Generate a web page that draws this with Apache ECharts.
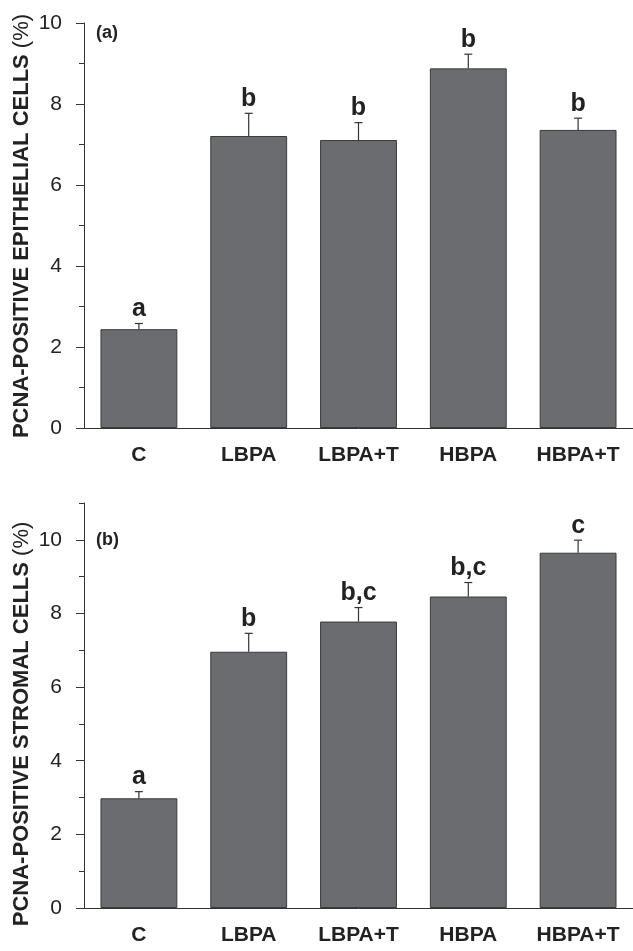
<!DOCTYPE html>
<html>
<head>
<meta charset="utf-8">
<script src="https://cdn.jsdelivr.net/npm/echarts@6/dist/echarts.min.js"></script>
<style>
html,body{margin:0;padding:0;background:#fff;}
#main{width:633px;height:951px;}
</style>
</head>
<body>
<div id="main"></div>
<script>
// groups on the x axis
const groups = ['C', 'LBPA', 'LBPA+T', 'HBPA', 'HBPA+T'];

// panel (a): epithelial cells, mean and SE
const epiMean = [2.44, 7.21, 7.11, 8.88, 7.36];
const epiErr = [0.14, 0.56, 0.43, 0.35, 0.29];
const epiSig = ['a', 'b', 'b', 'b', 'b'];

// panel (b): stromal cells, mean and SE
const strMean = [2.98, 6.96, 7.78, 8.46, 9.65];
const strErr = [0.18, 0.50, 0.38, 0.38, 0.34];
const strSig = ['a', 'b', 'b,c', 'b,c', 'c'];

// y ticks
const majorTicks = [0, 2, 4, 6, 8, 10];
const minorTicksA = [1, 3, 5, 7, 9];
const minorTicksB = [1, 3, 5, 7, 9, 11];

const FONT = '"Liberation Sans", Arial, Helvetica, sans-serif';
const INK = '#333';

let myChart = echarts.init(document.getElementById('main'));

// whisker (upper only) + significance letter
const errRender = (means, errs, sig) => (params, api) => {
  const i = params.dataIndex;
  const base = api.coord([i, means[i]]);
  const top = api.coord([i, means[i] + errs[i]]);
  const cap = 4;
  return {
    type: 'group',
    children: [
      {type: 'line', shape: {x1: base[0], y1: base[1], x2: top[0], y2: top[1]},
        style: {stroke: INK, lineWidth: 1.2}},
      {type: 'line', shape: {x1: top[0] - cap, y1: top[1], x2: top[0] + cap, y2: top[1]},
        style: {stroke: INK, lineWidth: 1.2}},
      {type: 'text', x: top[0], y: top[1] - 2,
        style: {text: sig[i], align: 'center', verticalAlign: 'bottom',
          fontSize: 25, fontWeight: 'bold', fontFamily: FONT, fill: '#222'}}
    ]
  };
};

const xAxesFor = (gridIndex) => [
  {
    type: 'category', gridIndex, position: 'bottom', data: groups,
    axisLine: {lineStyle: {color: INK, width: 1}},
    axisTick: {alignWithLabel: true, length: 7, lineStyle: {color: INK}},
    axisLabel: {fontSize: 21, fontWeight: 'bold', color: '#222', margin: 17, fontFamily: FONT}
  },
  {
    type: 'category', gridIndex, position: 'bottom', data: groups,
    axisLine: {show: false},
    axisTick: {length: 4, lineStyle: {color: INK}},
    axisLabel: {show: false}
  }
];

const yAxesFor = (gridIndex, max, minor) => [
  {
    type: 'value', gridIndex, min: 0, max: max,
    splitLine: {show: false},
    axisLine: {show: true, lineStyle: {color: INK, width: 1}},
    axisTick: {show: true, length: 8, customValues: majorTicks, lineStyle: {color: INK}},
    axisLabel: {fontSize: 21, color: '#222', margin: 22, fontFamily: FONT, customValues: majorTicks}
  },
  {
    type: 'value', gridIndex, min: 0, max: max, position: 'left',
    splitLine: {show: false},
    axisLine: {show: false},
    axisTick: {show: true, length: 5, customValues: minor, lineStyle: {color: INK}},
    axisLabel: {show: false}
  }
];

const barStyle = {color: '#6b6c70', borderColor: '#3a3a3a', borderWidth: 1};

const yTitle = (x, y, text) => ({
  type: 'text', x: x, y: y, rotation: Math.PI / 2,
  style: {
    text: '{b|' + text + ' }{r|(%)}',
    align: 'center', verticalAlign: 'middle',
    rich: {
      b: {fontSize: 22, fontWeight: 'bold', fontFamily: FONT, fill: '#222'},
      r: {fontSize: 22, fontWeight: 'normal', fontFamily: FONT, fill: '#222'}
    }
  }
});

let option = {
  animation: false,
  backgroundColor: '#fff',
  title: [
    {text: '(a)', left: 96, top: 24, padding: 0,
      textStyle: {fontSize: 18, fontWeight: 'bold', color: '#222', fontFamily: FONT}},
    {text: '(b)', left: 96, top: 531, padding: 0,
      textStyle: {fontSize: 18, fontWeight: 'bold', color: '#222', fontFamily: FONT}}
  ],
  grid: [
    {left: 84, top: 23, width: 550, height: 405},
    {left: 84, top: 503, width: 550, height: 405}
  ],
  xAxis: [...xAxesFor(0), ...xAxesFor(1)],
  yAxis: [...yAxesFor(0, 10, minorTicksA), ...yAxesFor(1, 11, minorTicksB)],
  graphic: [
    yTitle(22, 226, 'PCNA-POSITIVE EPITHELIAL CELLS'),
    yTitle(22, 724, 'PCNA-POSITIVE STROMAL CELLS')
  ],
  series: [
    {type: 'bar', xAxisIndex: 0, yAxisIndex: 0, data: epiMean, barWidth: '70%', itemStyle: barStyle},
    {type: 'custom', xAxisIndex: 0, yAxisIndex: 0, clip: false, z: 5,
      data: epiMean.map((v, i) => [i, v + epiErr[i]]),
      renderItem: errRender(epiMean, epiErr, epiSig)},
    {type: 'bar', xAxisIndex: 2, yAxisIndex: 2, data: strMean, barWidth: '70%', itemStyle: barStyle},
    {type: 'custom', xAxisIndex: 2, yAxisIndex: 2, clip: false, z: 5,
      data: strMean.map((v, i) => [i, v + strErr[i]]),
      renderItem: errRender(strMean, strErr, strSig)}
  ]
};

myChart.setOption(option);
</script>
</body>
</html>
